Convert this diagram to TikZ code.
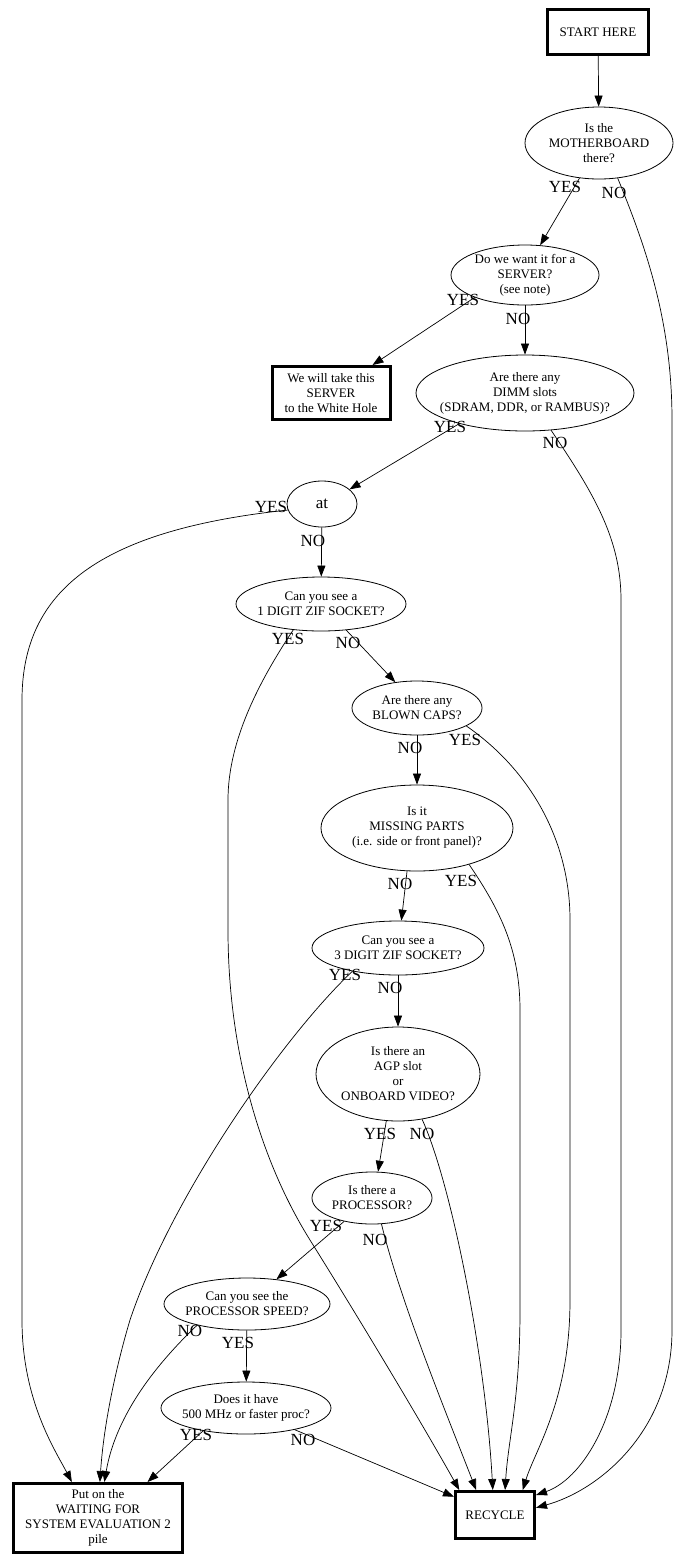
\documentclass[tikz,border=0pt]{standalone}
\usepackage{fontspec}
\setmainfont{Liberation Serif}
\usetikzlibrary{shapes.geometric,arrows.meta}
\begin{document}
\begin{tikzpicture}[x=1pt,y=-1pt,
  q/.style={ellipse,draw,line width=0.8pt,inner xsep=-30pt,inner ysep=-10pt,align=center,font=\fontsize{13}{15}\selectfont},
  term/.style={rectangle,draw,line width=3pt,inner sep=0pt,align=center,font=\fontsize{13}{15}\selectfont},
  edge/.style={line width=0.7pt,-{Triangle[length=11pt,width=8pt]}},
  lbl/.style={font=\fontsize{17}{17}\selectfont,inner sep=0pt}]
\useasboundingbox[fill=white] (0,0) rectangle (692,1559);

% nodes
\node[term,minimum width=101pt,minimum height=45pt] (start) at (598,32) {START HERE};
\node[q,minimum width=148pt,minimum height=72pt] (mb) at (599,143) {Is the\\MOTHERBOARD\\there?};
\node[q,minimum width=148pt,minimum height=60pt] (srv) at (525,275) {Do we want it for a\\SERVER?\\(see note)};
\node[term,minimum width=118pt,minimum height=53pt] (wh) at (331,393) {We will take this\\SERVER\\to the White Hole};
\node[q,minimum width=218pt,minimum height=76pt] (dimm) at (525,393) {Are there any\\DIMM slots\\(SDRAM, DDR, or RAMBUS)?};
\node[q,inner sep=0pt,minimum width=70pt,minimum height=46pt,font=\fontsize{17}{17}\selectfont] (at) at (322,504) {at};
\node[q,minimum width=170pt,minimum height=54pt] (z1) at (321,604) {Can you see a\\1 DIGIT ZIF SOCKET?};
\node[q,minimum width=130pt,minimum height=54pt] (bc) at (417,708) {Are there any\\BLOWN CAPS?};
\node[q,minimum width=192pt,minimum height=86pt] (mp) at (417,828) {Is it\\MISSING PARTS\\(i.e. side or front panel)?};
\node[q,minimum width=172pt,minimum height=54pt] (z3) at (398,948) {Can you see a\\3 DIGIT ZIF SOCKET?};
\node[q,minimum width=164pt,minimum height=94pt] (agp) at (398,1074) {Is there an\\AGP slot\\or\\ONBOARD VIDEO?};
\node[q,minimum width=120pt,minimum height=52pt] (proc) at (372,1198) {Is there a\\PROCESSOR?};
\node[q,minimum width=166pt,minimum height=52pt] (spd) at (247,1304) {Can you see the\\PROCESSOR SPEED?};
\node[q,minimum width=170pt,minimum height=52pt] (mhz) at (246,1408) {Does it have\\500 MHz or faster proc?};
\node[term,minimum width=169pt,minimum height=69pt] (wait) at (98,1518) {Put on the\\WAITING FOR\\SYSTEM EVALUATION 2\\pile};
\node[term,minimum width=79pt,minimum height=47pt] (rec) at (495,1515) {RECYCLE};

% edges
\draw[edge] (start) -- (mb);
\draw[edge] (mb.241) -- (srv.63);
\draw[edge] (mb.298) .. controls (645,245) and (672,320) .. (672,420) -- (672,1330) .. controls (672,1430) and (600,1490) .. (rec.10);
\draw[edge] (srv.204) -- (wh.34);
\draw[edge] (srv) -- (dimm);
\draw[edge] (dimm.205) -- (at.28);
\draw[edge] (dimm.305) .. controls (595,495) and (621,540) .. (621,600) -- (621,1330) .. controls (621,1420) and (580,1480) .. (rec.26);
\draw[edge] (at.190) .. controls (100,530) and (22,590) .. (22,700) -- (22,1320) .. controls (22,1400) and (55,1450) .. (wait.126);
\draw[edge] (at) -- (z1);
\draw[edge] (z1.223) .. controls (260,680) and (228,740) .. (228,800) -- (228,930) .. controls (228,1050) and (260,1160) .. (310,1240) .. controls (360,1320) and (420,1420) .. (rec.145);
\draw[edge] (z1.314) -- (bc.130);
\draw[edge] (bc) -- (mp);
\draw[edge] (bc.340) .. controls (530,770) and (570,840) .. (570,920) -- (570,1300) .. controls (570,1400) and (535,1450) .. (rec.42);
\draw[edge] (mp.257) -- (z3.83);
\draw[edge] (mp.325) .. controls (500,910) and (520,950) .. (520,1010) -- (520,1310) .. controls (520,1400) and (508,1440) .. (rec.68);
\draw[edge] (z3.207) .. controls (280,1040) and (170,1200) .. (130,1320) .. controls (118,1360) and (104,1420) .. (wait.87);
\draw[edge] (z3) -- (agp);
\draw[edge] (agp.256) -- (proc.77);
\draw[edge] (agp.298) .. controls (450,1180) and (485,1350) .. (rec.95);
\draw[edge] (proc.220) -- (spd.40);
\draw[edge] (proc.290) .. controls (400,1300) and (445,1410) .. (rec.127);
\draw[edge] (spd.203) .. controls (150,1370) and (115,1420) .. (wait.80);
\draw[edge] (spd) -- (mhz);
\draw[edge] (mhz.208) -- (wait.36);
\draw[edge] (mhz.336) -- (rec.156);

% labels
\node[lbl] (l1) at (565,187) {YES};
\node[lbl] (l2) at (614,193) {NO};
\node[lbl] (l3) at (463,300) {YES};
\node[lbl] (l4) at (518,319) {NO};
\node[lbl] (l5) at (450,427) {YES};
\node[lbl] (l6) at (555,443) {NO};
\node[lbl] (l7) at (271,507) {YES};
\node[lbl] (l8) at (313,541) {NO};
\node[lbl] (l9) at (288,639) {YES};
\node[lbl] (l10) at (348,643) {NO};
\node[lbl] (l11) at (410,748) {NO};
\node[lbl] (l12) at (465,740) {YES};
\node[lbl] (l13) at (400,884) {NO};
\node[lbl] (l14) at (461,881) {YES};
\node[lbl] (l15) at (345,975) {YES};
\node[lbl] (l16) at (390,988) {NO};
\node[lbl] (l17) at (380,1134) {YES};
\node[lbl] (l18) at (422,1134) {NO};
\node[lbl] (l19) at (326,1226) {YES};
\node[lbl] (l20) at (375,1240) {NO};
\node[lbl] (l21) at (190,1331) {NO};
\node[lbl] (l22) at (238,1343) {YES};
\node[lbl] (l23) at (196,1435) {YES};
\node[lbl] (l24) at (303,1440) {NO};
\end{tikzpicture}
\end{document}
